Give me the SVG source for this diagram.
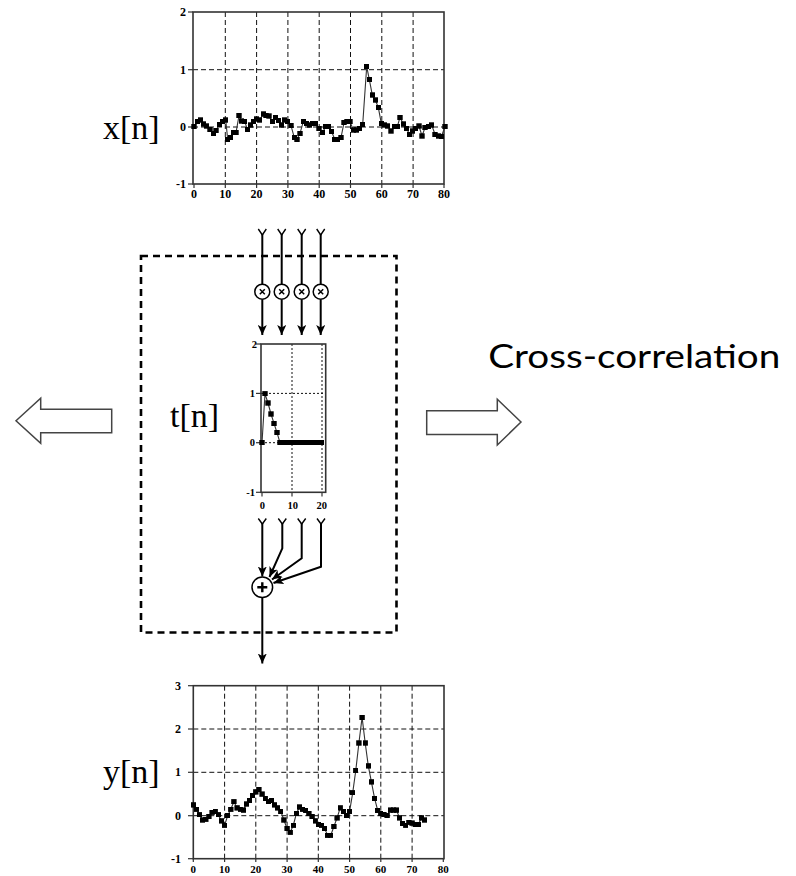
<svg xmlns="http://www.w3.org/2000/svg" width="796" height="876" viewBox="0 0 796 876">
<style>
.frame{fill:none;stroke:#333;stroke-width:1.6}
.grid{fill:none;stroke:#111;stroke-width:1;stroke-dasharray:5 3}
.dot{fill:none;stroke:#111;stroke-width:1;stroke-dasharray:2 2}
.tick{stroke:#333;stroke-width:1.2}
.data{fill:none;stroke:#333;stroke-width:1.1;marker-start:url(#sq);marker-mid:url(#sq);marker-end:url(#sq)}
.tl{font-family:"Liberation Serif",serif;font-weight:bold;font-size:12px;fill:#000}
.tlb{font-family:"Liberation Serif",serif;font-weight:bold;font-size:11px;fill:#000}
.tls{font-family:"Liberation Serif",serif;font-weight:bold;font-size:10.5px;fill:#000}
.lab{font-family:"Liberation Serif",serif;font-size:34px;fill:#000}
.wire{fill:none;stroke:#000;stroke-width:2}
.fork{fill:none;stroke:#000;stroke-width:1.4}
.arw{marker-end:url(#ah)}
.node{fill:#fff;stroke:#000;stroke-width:1.5}
.hollow{fill:#fff;stroke:#444;stroke-width:1.5;stroke-linejoin:miter}
</style>
<defs>
<marker id="sq" markerUnits="userSpaceOnUse" markerWidth="5.4" markerHeight="5.4" refX="2.7" refY="2.7" viewBox="0 0 5.4 5.4"><rect width="5.4" height="5.4" fill="#000"/></marker>
<marker id="ah" markerUnits="userSpaceOnUse" markerWidth="10" markerHeight="9" refX="10" refY="4.5" viewBox="0 0 10 9" orient="auto"><path d="M0,0 L10,4.5 L0,9 L2.5,4.5 z" fill="#000"/></marker>
</defs>
<rect width="796" height="876" fill="#fff"/>

<!-- x[n] plot -->
<g id="plot-x">
<g class="grid">
<line x1="225.3" y1="12" x2="225.3" y2="184"/><line x1="256.6" y1="12" x2="256.6" y2="184"/><line x1="287.9" y1="12" x2="287.9" y2="184"/><line x1="319.2" y1="12" x2="319.2" y2="184"/><line x1="350.5" y1="12" x2="350.5" y2="184"/><line x1="381.8" y1="12" x2="381.8" y2="184"/><line x1="413.1" y1="12" x2="413.1" y2="184"/>
<line x1="193" y1="69.7" x2="444" y2="69.7"/><line x1="193" y1="127" x2="444" y2="127"/>
</g>
<rect class="frame" x="193" y="12" width="251" height="172"/>
<g class="tick">
<line x1="188" y1="12" x2="193" y2="12"/><line x1="188" y1="69.7" x2="193" y2="69.7"/><line x1="188" y1="127" x2="193" y2="127"/><line x1="188" y1="184" x2="193" y2="184"/>
<line x1="194" y1="184" x2="194" y2="188"/><line x1="225.3" y1="184" x2="225.3" y2="188"/><line x1="256.6" y1="184" x2="256.6" y2="188"/><line x1="287.9" y1="184" x2="287.9" y2="188"/><line x1="319.2" y1="184" x2="319.2" y2="188"/><line x1="350.5" y1="184" x2="350.5" y2="188"/><line x1="381.8" y1="184" x2="381.8" y2="188"/><line x1="413.1" y1="184" x2="413.1" y2="188"/><line x1="444" y1="184" x2="444" y2="188"/>
</g>
<g class="tl" text-anchor="end">
<text x="186" y="16">2</text><text x="186" y="74">1</text><text x="186" y="131">0</text><text x="186" y="188">-1</text>
</g>
<g class="tl" text-anchor="middle">
<text x="194" y="198">0</text><text x="225.3" y="198">10</text><text x="256.6" y="198">20</text><text x="287.9" y="198">30</text><text x="319.2" y="198">40</text><text x="350.5" y="198">50</text><text x="381.8" y="198">60</text><text x="413.1" y="198">70</text><text x="444" y="198">80</text>
</g>
<polyline class="data" points="194.0,126.7 197.3,121.7 200.7,120.0 203.7,124.0 206.7,126.0 210.0,129.3 213.3,133.3 216.0,130.7 219.3,124.3 222.3,121.7 225.7,120.0 227.7,139.3 230.3,137.3 233.3,132.7 236.0,132.7 239.0,115.7 241.7,121.0 244.7,121.3 247.3,129.3 250.3,125.0 253.3,121.7 256.7,119.0 259.7,120.0 263.3,114.0 266.0,115.7 269.0,116.0 272.3,121.7 275.3,117.3 278.3,120.7 281.7,125.0 284.3,120.0 287.7,121.7 291.0,125.7 294.3,137.7 297.0,139.3 300.0,133.3 303.3,121.7 306.7,123.3 309.7,125.0 312.7,123.3 315.7,123.3 319.0,128.3 322.3,132.7 325.7,126.7 328.3,126.7 331.7,131.7 334.7,139.3 337.7,139.3 341.0,137.7 344.0,122.7 347.0,121.7 350.0,121.7 353.3,130.0 356.3,130.0 359.3,128.3 362.7,124.3 366.7,66.7 369.3,79.3 372.3,95.0 375.3,100.0 378.3,107.3 381.3,123.3 384.7,125.0 387.7,126.0 391.0,131.0 394.3,126.7 397.3,126.7 400.0,117.3 403.3,124.0 406.7,128.3 409.3,134.3 412.7,131.0 415.7,128.3 419.0,126.0 422.0,136.0 425.0,127.7 428.3,126.7 431.7,125.0 435.0,134.3 438.3,136.0 441.3,136.7 445.0,126.7"/>
<text class="lab" x="103" y="139">x[n]</text>
</g>

<!-- dashed box -->
<rect id="dashed-box" x="141" y="256" width="255.5" height="376.5" fill="none" stroke="#000" stroke-width="2.6" stroke-dasharray="7 5"/>

<!-- t[n] plot -->
<g id="plot-t">
<g class="dot">
<line x1="292" y1="344" x2="292" y2="492.3"/><line x1="322" y1="344" x2="322" y2="492.3"/>
<line x1="261" y1="393.4" x2="325.7" y2="393.4"/><line x1="261" y1="442.7" x2="325.7" y2="442.7"/>
</g>
<rect class="frame" x="261" y="344" width="64.7" height="148.3"/>
<g class="tick">
<line x1="256" y1="344" x2="261" y2="344"/><line x1="256" y1="393.4" x2="261" y2="393.4"/><line x1="256" y1="442.7" x2="261" y2="442.7"/><line x1="256" y1="492.3" x2="261" y2="492.3"/>
<line x1="262" y1="492.3" x2="262" y2="496.5"/><line x1="292" y1="492.3" x2="292" y2="496.5"/><line x1="322" y1="492.3" x2="322" y2="496.5"/>
</g>
<g class="tls" text-anchor="end">
<text x="257" y="347.5">2</text><text x="255" y="397">1</text><text x="255" y="446.3">0</text><text x="255" y="496">-1</text>
</g>
<g class="tls" text-anchor="middle">
<text x="262.3" y="509">0</text><text x="292.7" y="509">10</text><text x="321.7" y="509">20</text>
</g>
<polyline class="data" points="262,442.7 265,393.8 268,403 271,414 274,423.3 277,432.7 280,442.7 283,442.7 286,442.7 289,442.7 292,442.7 295,442.7 298,442.7 301,442.7 304,442.7 307,442.7 310,442.7 313,442.7 316,442.7 319,442.7 321.8,442.7"/>
<text class="lab" x="170" y="427" font-size="35">t[n]</text>
</g>

<!-- y[n] plot -->
<g id="plot-y">
<g class="grid">
<line x1="224.6" y1="685.7" x2="224.6" y2="858.7"/><line x1="255.8" y1="685.7" x2="255.8" y2="858.7"/><line x1="287.1" y1="685.7" x2="287.1" y2="858.7"/><line x1="318.3" y1="685.7" x2="318.3" y2="858.7"/><line x1="349.6" y1="685.7" x2="349.6" y2="858.7"/><line x1="380.8" y1="685.7" x2="380.8" y2="858.7"/><line x1="412.1" y1="685.7" x2="412.1" y2="858.7"/>
<line x1="193.3" y1="729" x2="444" y2="729"/><line x1="193.3" y1="772.3" x2="444" y2="772.3"/><line x1="193.3" y1="815.7" x2="444" y2="815.7"/>
</g>
<rect class="frame" x="193.3" y="685.7" width="250.7" height="173"/>
<g class="tick">
<line x1="188" y1="685.7" x2="193.3" y2="685.7"/><line x1="188" y1="729" x2="193.3" y2="729"/><line x1="188" y1="772.3" x2="193.3" y2="772.3"/><line x1="188" y1="815.7" x2="193.3" y2="815.7"/><line x1="188" y1="858.7" x2="193.3" y2="858.7"/>
<line x1="193.3" y1="858.7" x2="193.3" y2="862"/><line x1="224.6" y1="858.7" x2="224.6" y2="862"/><line x1="255.8" y1="858.7" x2="255.8" y2="862"/><line x1="287.1" y1="858.7" x2="287.1" y2="862"/><line x1="318.3" y1="858.7" x2="318.3" y2="862"/><line x1="349.6" y1="858.7" x2="349.6" y2="862"/><line x1="380.8" y1="858.7" x2="380.8" y2="862"/><line x1="412.1" y1="858.7" x2="412.1" y2="862"/><line x1="443.3" y1="858.7" x2="443.3" y2="862"/>
</g>
<g class="tl" text-anchor="end">
<text x="181" y="689.7">3</text><text x="181" y="733">2</text><text x="181" y="776.3">1</text><text x="181" y="819.7">0</text><text x="181" y="862.7">-1</text>
</g>
<g class="tlb" text-anchor="middle">
<text x="193.3" y="872.5">0</text><text x="224.6" y="872.5">10</text><text x="255.8" y="872.5">20</text><text x="287.1" y="872.5">30</text><text x="318.3" y="872.5">40</text><text x="349.6" y="872.5">50</text><text x="380.8" y="872.5">60</text><text x="412.1" y="872.5">70</text><text x="443.3" y="872.5">80</text>
</g>
<polyline class="data" points="193.3,804.9 196.4,809.2 199.6,814.8 202.7,820.0 205.8,819.2 208.9,816.6 212.1,812.2 215.2,811.4 218.3,814.8 221.4,820.9 224.6,825.2 227.7,815.7 230.8,809.2 233.9,801.8 237.1,807.9 240.2,809.2 243.3,810.1 246.4,804.0 249.6,800.5 252.7,795.3 255.8,791.9 258.9,789.7 262.1,794.1 265.2,798.4 268.3,801.8 271.4,800.5 274.6,804.9 277.7,807.9 280.8,811.4 283.9,820.0 287.1,828.7 290.2,832.2 293.3,825.2 296.4,813.5 299.6,807.0 302.7,809.2 305.8,810.5 308.9,813.5 312.1,816.6 315.2,820.9 318.3,824.4 321.4,825.2 324.6,828.7 327.7,835.2 330.8,835.2 333.9,826.5 337.1,817.9 340.2,807.9 343.3,811.4 346.4,815.7 349.6,811.4 352.7,792.8 355.8,770.2 358.9,743.0 362.1,717.4 365.2,743.0 368.3,765.9 371.4,781.9 374.6,798.4 377.7,810.5 380.8,813.5 383.9,814.4 387.1,815.7 390.2,810.1 393.3,810.1 396.4,810.1 399.6,817.9 402.7,823.5 405.8,825.2 408.9,822.2 412.1,823.1 415.2,824.4 418.3,824.4 421.4,817.9 424.6,820.0"/>
<text class="lab" x="103" y="783">y[n]</text>
</g>

<!-- connectors -->
<g id="connectors">
<g class="fork">
<polyline points="258.3,229 262.3,235 266.3,229"/><polyline points="277.7,229 281.7,235 285.7,229"/><polyline points="297.7,229 301.7,235 305.7,229"/><polyline points="316.7,229 320.7,235 324.7,229"/>
<polyline points="258.3,518.5 262.3,524 266.3,518.5"/><polyline points="278.3,518.5 282.3,524 286.3,518.5"/><polyline points="297.7,518.5 301.7,524 305.7,518.5"/><polyline points="317,518.5 321,524 325,518.5"/>
</g>
<g class="wire">
<line x1="262.3" y1="234" x2="262.3" y2="284"/><line x1="281.7" y1="234" x2="281.7" y2="284"/><line x1="301.7" y1="234" x2="301.7" y2="284"/><line x1="320.7" y1="234" x2="320.7" y2="284"/>
<line class="arw" x1="262.3" y1="299.5" x2="262.3" y2="335"/><line class="arw" x1="281.7" y1="299.5" x2="281.7" y2="335"/><line class="arw" x1="301.7" y1="299.5" x2="301.7" y2="335"/><line class="arw" x1="320.7" y1="299.5" x2="320.7" y2="335"/>
<line class="arw" x1="262.3" y1="523" x2="262.3" y2="576.5"/>
<polyline class="arw" points="282.3,523 282.3,548.3 269.5,577"/>
<polyline class="arw" points="301.7,523 301.7,558.3 272,579.5"/>
<polyline class="arw" points="321,523 321,566.7 273.5,583"/>
<line class="arw" x1="262.3" y1="598" x2="262.3" y2="663.5"/>
</g>
</g>

<!-- multipliers -->
<g id="mult-1"><circle class="node" cx="262.3" cy="291.7" r="7.5"/><path d="M259.8,289.2 L264.8,294.2 M264.8,289.2 L259.8,294.2" stroke="#000" stroke-width="1.5"/></g>
<g id="mult-2"><circle class="node" cx="281.7" cy="291.7" r="7.5"/><path d="M279.2,289.2 L284.2,294.2 M284.2,289.2 L279.2,294.2" stroke="#000" stroke-width="1.5"/></g>
<g id="mult-3"><circle class="node" cx="301.7" cy="291.7" r="7.5"/><path d="M299.2,289.2 L304.2,294.2 M304.2,289.2 L299.2,294.2" stroke="#000" stroke-width="1.5"/></g>
<g id="mult-4"><circle class="node" cx="320.7" cy="291.7" r="7.5"/><path d="M318.2,289.2 L323.2,294.2 M323.2,289.2 L318.2,294.2" stroke="#000" stroke-width="1.5"/></g>

<!-- summation -->
<g id="sum"><circle class="node" cx="262.3" cy="587.3" r="10.3"/><path d="M257.3,587.3 L267.3,587.3 M262.3,582.3 L262.3,592.3" stroke="#000" stroke-width="2.4"/></g>

<!-- hollow arrows -->
<g id="arrow-left"><polygon class="hollow" points="16,420.7 40.7,398.3 40.7,409.3 111.7,409.3 111.7,432.7 40.7,432.7 40.7,443.3"/></g>
<g id="arrow-right"><polygon class="hollow" points="521,422 497.3,399.3 497.3,410.8 426.7,410.8 426.7,434.5 497.3,434.5 497.3,445"/></g>

<g id="label-cross"><text x="488.3" y="368.3" font-family="Lato, 'Open Sans', sans-serif" font-size="33" textLength="292" lengthAdjust="spacingAndGlyphs" fill="#000">Cross-correlation</text></g>
</svg>
